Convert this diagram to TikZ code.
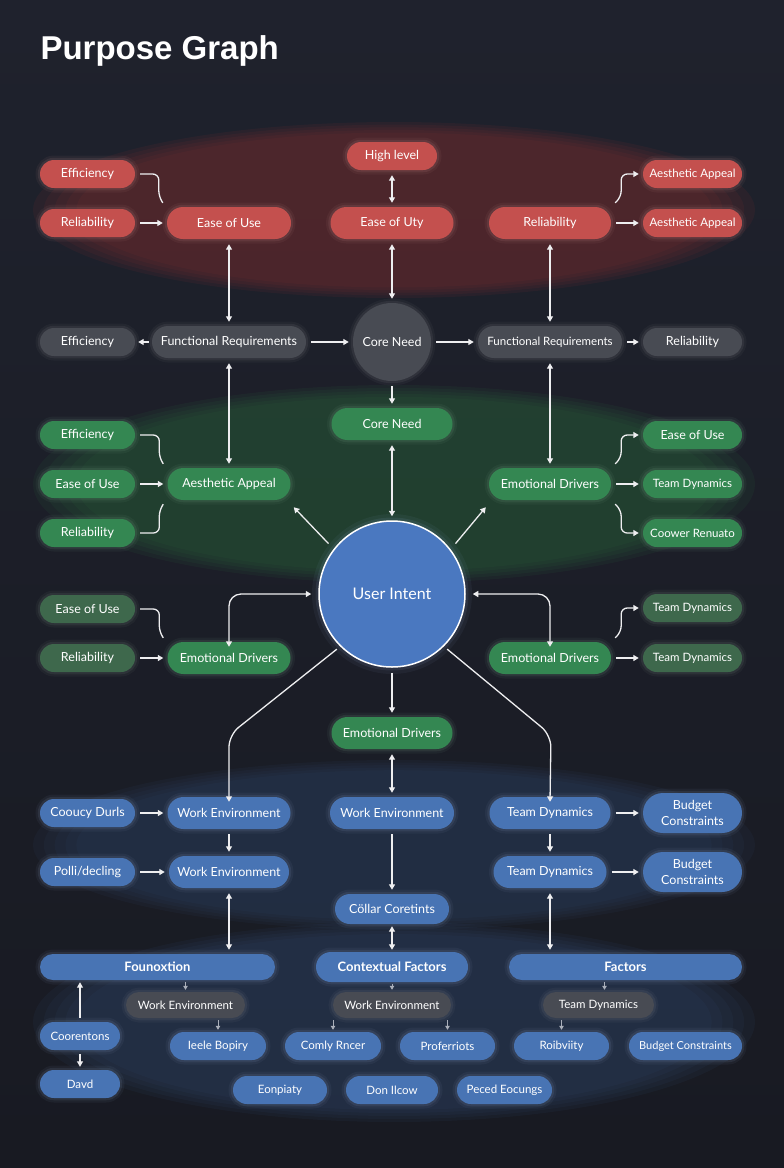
\documentclass[tikz,border=0pt]{standalone}
\usepackage{fontspec}
\setmainfont{Lato}
\newfontfamily\titlefont{Liberation Sans}
\usetikzlibrary{arrows.meta,calc}
\definecolor{bgtop}{RGB}{31,34,45}
\definecolor{bgbot}{RGB}{24,26,34}
\definecolor{rnode}{RGB}{196,80,78}
\definecolor{gnode}{RGB}{52,135,82}
\definecolor{dgnode}{RGB}{62,104,76}
\definecolor{bnode}{RGB}{72,116,180}
\definecolor{grnode}{RGB}{72,75,83}
\definecolor{uint}{RGB}{74,120,192}
\definecolor{redglow}{RGB}{140,50,52}
\definecolor{greenglow}{RGB}{45,114,63}
\definecolor{blueglow}{RGB}{52,77,117}
\definecolor{linec}{RGB}{238,238,240}
\definecolor{slinec}{RGB}{170,175,186}
\begin{document}
\begin{tikzpicture}[x=1pt,y=-1pt,
  base/.style={text=white, font=\fontsize{12.5}{15}\selectfont, inner sep=0pt, align=center},
  sm/.style={font=\fontsize{11.5}{14}\selectfont},
  bd/.style={font=\fontsize{13}{15}\selectfont\bfseries},
  h26/.style={minimum height=26pt, rounded corners=13pt},
  h28/.style={minimum height=28pt, rounded corners=14pt},
  h30/.style={minimum height=30pt, rounded corners=15pt},
  h32/.style={minimum height=32pt, rounded corners=16pt},
  h40/.style={minimum height=40pt, rounded corners=20pt},
  glow/.style={preaction={draw=#1!55!white, line width=9pt, opacity=0.06},
               preaction={draw=#1!55!white, line width=4.5pt, opacity=0.10}},
  rn/.style={base, fill=rnode, glow=rnode},
  gn/.style={base, fill=gnode, glow=gnode},
  dg/.style={base, fill=dgnode, glow=dgnode},
  bn/.style={base, fill=bnode, glow=bnode},
  gy/.style={base, fill=grnode, glow=grnode},
  ln/.style={draw=linec, line width=1.3pt},
  arr/.style={ln, -{Triangle[length=5.5pt,width=6pt]}},
  darr/.style={ln, {Triangle[length=5.5pt,width=6pt]}-{Triangle[length=5.5pt,width=6pt]}},
  sarr/.style={draw=slinec, line width=1pt, -{Triangle[length=4pt,width=4.5pt]}},
  gap/.style={shorten <=5pt, shorten >=4pt},
  sgap/.style={shorten <=2pt, shorten >=2pt}
]
\useasboundingbox (0,0) rectangle (784,1168);
\shade[top color=bgtop, bottom color=bgbot] (0,0) rectangle (784,1168);

% glow regions
\foreach \s in {1.0,0.97,0.94,0.91,0.88}{
  \fill[redglow, opacity=0.11] (394,210) ellipse [x radius=\s*361pt, y radius=\s*88pt];
  \fill[greenglow, opacity=0.1] (394,484) ellipse [x radius=\s*361pt, y radius=\s*99pt];
  \fill[blueglow, opacity=0.09] (394,845) ellipse [x radius=\s*361pt, y radius=\s*85pt];
  \fill[blueglow, opacity=0.1] (394,1022) ellipse [x radius=\s*361pt, y radius=\s*100pt];
}

% title
\node[anchor=west, text=white, font=\titlefont\fontsize{33}{38}\selectfont\bfseries] (title) at (37,51) {Purpose Graph};

% ---------- red row
\node[rn,h28,minimum width=90pt] (rHigh) at (392,156) {High level};
\node[rn,h28,minimum width=95pt] (rEff) at (87.5,174) {Efficiency};
\node[rn,h28,minimum width=95pt] (rRel) at (87.5,223) {Reliability};
\node[rn,h32,minimum width=124pt] (rEase) at (229,223) {Ease of Use};
\node[rn,h32,minimum width=123pt] (rUty) at (392,223) {Ease of Uty};
\node[rn,h32,minimum width=122pt] (rRelC) at (550,223) {Reliability};
\node[rn,sm,h28,minimum width=99pt] (rAes1) at (692.5,174) {Aesthetic Appeal};
\node[rn,sm,h28,minimum width=99pt] (rAes2) at (692.5,223) {Aesthetic Appeal};

% ---------- gray row
\node[gy,h28,minimum width=95pt] (gEff) at (87.5,342) {Efficiency};
\node[gy,h32,minimum width=154pt] (gFR1) at (229,342) {Functional Requirements};
\node[base, circle, fill=grnode, minimum size=78pt, glow=grnode] (core) at (392,342) {Core Need};
\node[gy,sm,h32,minimum width=144pt] (gFR2) at (550,342) {Functional Requirements};
\node[gy,h28,minimum width=99pt] (gRel) at (692.5,342) {Reliability};

% ---------- green row
\node[gn,h32,minimum width=121pt] (gCore) at (392,424) {Core Need};
\node[gn,h28,minimum width=95pt] (gEff2) at (87.5,435) {Efficiency};
\node[gn,h28,minimum width=95pt] (gEase) at (87.5,484) {Ease of Use};
\node[gn,h28,minimum width=95pt] (gRel2) at (87.5,533) {Reliability};
\node[gn,h32,minimum width=123pt] (gAes) at (229,484) {Aesthetic Appeal};
\node[gn,h32,minimum width=122pt] (gEmo) at (550,484) {Emotional Drivers};
\node[gn,h28,minimum width=99pt] (gREase) at (692.5,435) {Ease of Use};
\node[gn,sm,h28,minimum width=99pt] (gRTD) at (692.5,484) {Team Dynamics};
\node[gn,sm,h28,minimum width=99pt] (gRCo) at (692.5,533) {Coower Renuato};

% ---------- user intent
\node[base, circle, fill=uint, draw=white, line width=1.5pt, minimum size=146pt, font=\fontsize{16}{18}\selectfont, preaction={draw=uint!60!white, line width=14pt, opacity=0.06}, preaction={draw=uint!60!white, line width=7pt, opacity=0.1}] (ui) at (392,594) {User Intent};

% ---------- dark green row
\node[dg,h28,minimum width=95pt] (dEase) at (87.5,609) {Ease of Use};
\node[dg,h28,minimum width=95pt] (dRel) at (87.5,658) {Reliability};
\node[gn,h32,minimum width=123pt] (gEmoL) at (229,658) {Emotional Drivers};
\node[gn,h32,minimum width=122pt] (gEmoR) at (550,658) {Emotional Drivers};
\node[dg,sm,h28,minimum width=99pt] (dTD1) at (692.5,608) {Team Dynamics};
\node[dg,sm,h28,minimum width=99pt] (dTD2) at (692.5,658) {Team Dynamics};
\node[gn,h32,minimum width=121pt] (gEmoC) at (392,733) {Emotional Drivers};

% ---------- blue rows
\node[bn,h28,minimum width=95pt] (bCoo) at (87.5,813) {Cooucy Durls};
\node[bn,h32,minimum width=123pt] (bWE1) at (229,813) {Work Environment};
\node[bn,h32,minimum width=124pt] (bWEc) at (392,813) {Work Environment};
\node[bn,h32,minimum width=121pt] (bTD1) at (550,813) {Team Dynamics};
\node[bn,h40,minimum width=99pt, font=\fontsize{12.5}{16}\selectfont] (bBud1) at (692.5,813) {Budget\\Constraints};
\node[bn,h28,minimum width=95pt] (bPol) at (87.5,872) {Polli/decling};
\node[bn,h32,minimum width=120pt] (bWE2) at (229,872) {Work Environment};
\node[bn,h32,minimum width=113pt] (bTD2) at (550,872) {Team Dynamics};
\node[bn,h40,minimum width=99pt, font=\fontsize{12.5}{16}\selectfont] (bBud2) at (692.5,872) {Budget\\Constraints};
\node[bn,h30,minimum width=114pt] (bCol) at (392,909) {Cöllar Coretints};

% ---------- bottom
\node[bn,bd,h26,minimum width=235pt] (fFound) at (157.5,967) {Founoxtion};
\node[bn,bd,h30,minimum width=152pt] (fCtx) at (392,967) {Contextual Factors};
\node[bn,bd,h26,minimum width=233pt] (fFac) at (625.5,967) {Factors};
\node[gy,sm,h26,minimum width=119pt] (wWE1) at (185.5,1005) {Work Environment};
\node[gy,sm,h26,minimum width=118pt] (wWE2) at (392,1005) {Work Environment};
\node[gy,sm,h26,minimum width=111pt] (wTD) at (598.5,1005) {Team Dynamics};
\node[bn,sm,h28,minimum width=80pt] (bCoor) at (80,1036) {Coorentons};
\node[bn,sm,h28,minimum width=80pt] (bDavd) at (80,1084) {Davd};
\node[bn,sm,h28,minimum width=96pt] (bIee) at (218,1046) {Ieele Bopiry};
\node[bn,sm,h28,minimum width=96pt] (bCom) at (333,1046) {Comly Rncer};
\node[bn,sm,h28,minimum width=95pt] (bPro) at (447.5,1046) {Proferriots};
\node[bn,sm,h28,minimum width=95pt] (bRoi) at (561.5,1046) {Roibviity};
\node[bn,sm,h28,minimum width=113pt, font=\fontsize{11}{13}\selectfont] (bBC) at (685.5,1046) {Budget Constraints};
\node[bn,sm,h28,minimum width=94pt] (bEon) at (280,1090) {Eonpiaty};
\node[bn,sm,h28,minimum width=92pt] (bDon) at (392,1090) {Don Ilcow};
\node[bn,sm,h28,minimum width=95pt] (bPec) at (504.5,1090) {Peced Eocungs};

% ================= connectors
% red region
\draw[ln, rounded corners=6pt] ([xshift=5pt]rEff.east) -| ([shift={(-8,-10)}]rEase.north west) -- ([shift={(-4,-4)}]rEase.north west);
\draw[arr,gap] (rRel) -- (rEase);
\draw[darr,gap] (rHigh) -- (rUty);
\draw[darr,gap] (rUty) -- (core);
\draw[darr,gap] (rEase) -- (gFR1);
\draw[darr,gap] (rRelC) -- (gFR2);
\draw[arr, rounded corners=6pt] ([shift={(4,-4)}]rRelC.north east) -- ++(6,-6) |- ([xshift=-4pt]rAes1.west);
\draw[arr,gap] (rRelC) -- (rAes2);

% gray row
\draw[arr,shorten <=3pt,shorten >=3pt] (gFR1) -- (gEff);
\draw[arr,gap] (gFR1) -- (core);
\draw[arr,gap] (core) -- (gFR2);
\draw[arr,gap] (gFR2) -- (gRel);
\draw[arr,gap] (core) -- (gCore);
\draw[darr,gap] (gFR1) -- (gAes);
\draw[darr,gap] (gFR2) -- (gEmo);
\draw[darr,gap] (gCore) -- (ui);

% green region
\draw[ln, rounded corners=6pt] ([xshift=5pt]gEff2.east) -| ([shift={(-8,-10)}]gAes.north west) -- ([shift={(-4,-4)}]gAes.north west);
\draw[arr,gap] (gEase) -- (gAes);
\draw[ln, rounded corners=6pt] ([xshift=5pt]gRel2.east) -| ([shift={(-8,10)}]gAes.south west) -- ([shift={(-4,4)}]gAes.south west);
\draw[arr] ([shift={(-7,-3)}]ui.140) -- ([shift={(3,7)}]gAes.south east);
\draw[arr] ([shift={(7,-3)}]ui.40) -- ([shift={(-3,7)}]gEmo.south west);
\draw[arr, rounded corners=6pt] ([shift={(4,-4)}]gEmo.north east) -- ++(6,-6) |- ([xshift=-4pt]gREase.west);
\draw[arr,gap] (gEmo) -- (gRTD);
\draw[arr, rounded corners=6pt] ([shift={(4,4)}]gEmo.south east) -- ++(6,6) |- ([xshift=-4pt]gRCo.west);

% dark green region
\draw[ln, rounded corners=6pt] ([xshift=5pt]dEase.east) -| ([shift={(-8,-10)}]gEmoL.north west) -- ([shift={(-4,-4)}]gEmoL.north west);
\draw[arr,gap] (dRel) -- (gEmoL);
\draw[darr, rounded corners=12pt] ([xshift=-7pt]ui.west) -| ([yshift=-5pt]gEmoL.north);
\draw[darr, rounded corners=12pt] ([xshift=7pt]ui.east) -| ([yshift=-5pt]gEmoR.north);
\draw[arr, rounded corners=6pt] ([shift={(4,-4)}]gEmoR.north east) -- ++(6,-6) |- ([xshift=-4pt]dTD1.west);
\draw[arr,gap] (gEmoR) -- (dTD2);
\draw[arr,gap] (ui) -- (gEmoC);
\draw[arr, rounded corners=12pt] ([shift={(-3,3)}]ui.225) -- (229,735) -- ([yshift=-5pt]bWE1.north);
\draw[arr, rounded corners=12pt] ([shift={(3,3)}]ui.-45) -- (551,735) -- ([yshift=-5pt]bTD1.north);

% blue region
\draw[darr,gap] (gEmoC) -- (bWEc);
\draw[arr,gap] (bWEc) -- (bCol);
\draw[darr,sgap] (bCol) -- (fCtx);
\draw[arr,gap] (bCoo) -- (bWE1);
\draw[arr,gap] (bWE1) -- (bWE2);
\draw[arr,gap] (bPol) -- (bWE2);
\draw[darr,gap] (bWE2.south) -- (bWE2.south |- fFound.north);
\draw[arr,gap] (bTD1) -- (bBud1);
\draw[arr,gap] (bTD1) -- (bTD2);
\draw[arr,gap] (bTD2) -- (bBud2);
\draw[darr,gap] (bTD2.south) -- (bTD2.south |- fFac.north);

% bottom
\draw[sarr,sgap] (wWE1.north |- fFound.south) -- (wWE1.north);
\draw[sarr,sgap] (bIee.north |- wWE1.south) -- (bIee.north);
\draw[arr, line width=1.1pt, sgap, shorten <=4pt] (bCoor.north) -- (bCoor.north |- fFound.south);
\draw[arr, line width=1.1pt, shorten <=4pt, shorten >=3pt] (bCoor) -- (bDavd);
\draw[sarr,sgap] (fCtx) -- (wWE2);
\draw[sarr,sgap] (bCom.north |- wWE2.south) -- (bCom.north);
\draw[sarr,sgap] (bPro.north |- wWE2.south) -- (bPro.north);
\coordinate (tdTop) at ([xshift=6pt]wTD.north);
\draw[sarr,sgap] (tdTop |- fFac.south) -- (tdTop);
\draw[sarr,sgap] (bRoi.north |- wTD.south) -- (bRoi.north);
\end{tikzpicture}
\end{document}
